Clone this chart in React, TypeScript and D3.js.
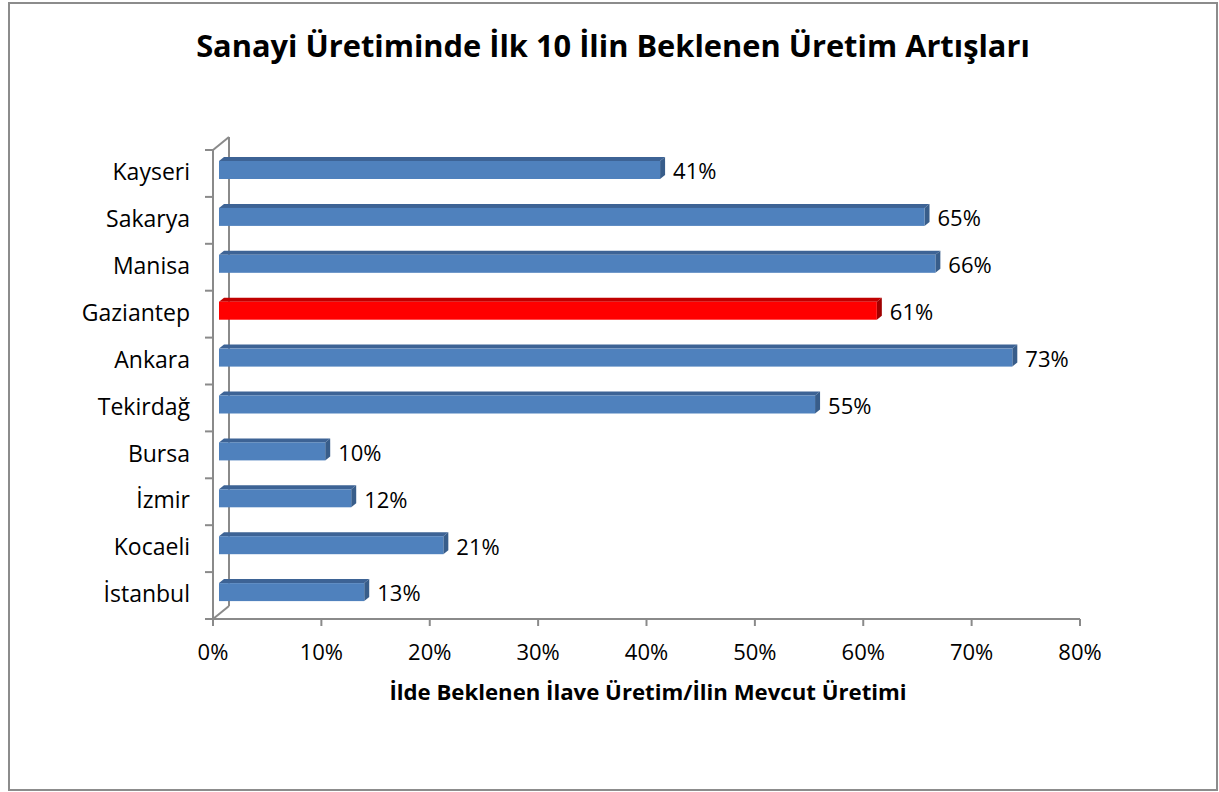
import React from "react";
import * as d3 from "d3";

const categories = ["Kayseri", "Sakarya", "Manisa", "Gaziantep", "Ankara", "Tekirdağ", "Bursa", "İzmir", "Kocaeli", "İstanbul"];
const values = [0.407, 0.651, 0.661, 0.607, 0.732, 0.55, 0.098, 0.122, 0.207, 0.134];
const highlight = ["Gaziantep"];
const xTicks = [0, 0.1, 0.2, 0.3, 0.4, 0.5, 0.6, 0.7, 0.8];
const title = "Sanayi Üretiminde İlk 10 İlin Beklenen Üretim Artışları";
const xTitle = "İlde Beklenen İlave Üretim/İlin Mevcut Üretimi";

const W = 1219;
const H = 792;
const FONT = "'Open Sans', 'Noto Sans', sans-serif";
const LBL = 22;
const CAT = 23;

export default function App() {
  const x = d3.scaleLinear().domain([0, 0.8]).range([213, 1080]);
  const y = d3.scaleBand<string>().domain(categories).range([150, 619]);
  const fmt = d3.format(".0%");
  const depth = { dx: 16, dy: -13 };
  const barOff = 6;
  const bd = 5;
  const axisColor = "#8a8a8a";

  const x0 = x(0);
  const yTop = y.range()[0];
  const yBot = y.range()[1];
  const capOff = 0.357 * LBL;
  const capOffCat = 0.357 * CAT;

  return (
    <svg width={W} height={H} style={{ position: "absolute", left: 0, top: 0, background: "#fff" }}>
      <rect x={9} y={3} width={1208} height={787} fill="#fff" stroke="#8c8c8c" strokeWidth={2} />
      <text x={613} y={57} textAnchor="middle" fontFamily={FONT} fontWeight="bold" fontSize={30.8} fill="#000">
        {title}
      </text>

      <g stroke={axisColor} strokeWidth={2} fill="none">
        <line x1={x0} y1={yTop} x2={x0} y2={yBot} />
        <line x1={x0 + depth.dx} y1={yTop + depth.dy} x2={x0 + depth.dx} y2={yBot + depth.dy} />
        <line x1={x0} y1={yTop} x2={x0 + depth.dx} y2={yTop + depth.dy} />
        <line x1={x0} y1={yBot} x2={x0 + depth.dx} y2={yBot + depth.dy} />
        <line x1={x0} y1={yBot} x2={x(0.8)} y2={yBot} />
        {categories.map((c) => (
          <line key={"t" + c} x1={x0 - 8} x2={x0} y1={y(c)!} y2={y(c)!} />
        ))}
        <line x1={x0 - 8} x2={x0} y1={yBot} y2={yBot} />
        {xTicks.map((t) => (
          <line key={"xt" + t} x1={x(t)} x2={x(t)} y1={yBot} y2={yBot + 7} />
        ))}
      </g>

      {categories.map((c, i) => {
        const v = values[i];
        const red = highlight.includes(c);
        const front = red ? "#ff0000" : "#4f81bd";
        const topC = red ? "#c00000" : "#3d6395";
        const sideC = red ? "#a00000" : "#385d8a";
        const bx0 = x(0) + barOff;
        const bx1 = x(v) + barOff;
        const top = y(c)! + 11;
        const bot = top + 18;
        const bc = y(c)! + y.bandwidth() / 2;
        return (
          <g key={c}>
            <polygon points={`${bx0},${top} ${bx0 + bd},${top - bd + 1} ${bx1 + bd},${top - bd + 1} ${bx1},${top}`} fill={topC} />
            <polygon points={`${bx1},${top} ${bx1 + bd},${top - bd + 1} ${bx1 + bd},${bot - bd + 1} ${bx1},${bot}`} fill={sideC} />
            <rect x={bx0} y={top} width={bx1 - bx0} height={bot - top} fill={front} />
            <text x={bx1 + bd + 8} y={(top + bot) / 2 + 1.5 + capOff} fontFamily={FONT} fontSize={LBL} fill="#000">
              {fmt(Math.round(v * 100) / 100)}
            </text>
            <text x={190} y={bc - 1.5 + capOffCat} textAnchor="end" fontFamily={FONT} fontSize={CAT} fill="#000">
              {c}
            </text>
          </g>
        );
      })}

      {xTicks.map((t) => (
        <text key={"xl" + t} x={x(t)} y={660} textAnchor="middle" fontFamily={FONT} fontSize={LBL} fill="#000">
          {fmt(t)}
        </text>
      ))}
      <text x={648} y={700} textAnchor="middle" fontFamily={FONT} fontWeight="bold" fontSize={22.2} fill="#000">
        {xTitle}
      </text>
    </svg>
  );
}
